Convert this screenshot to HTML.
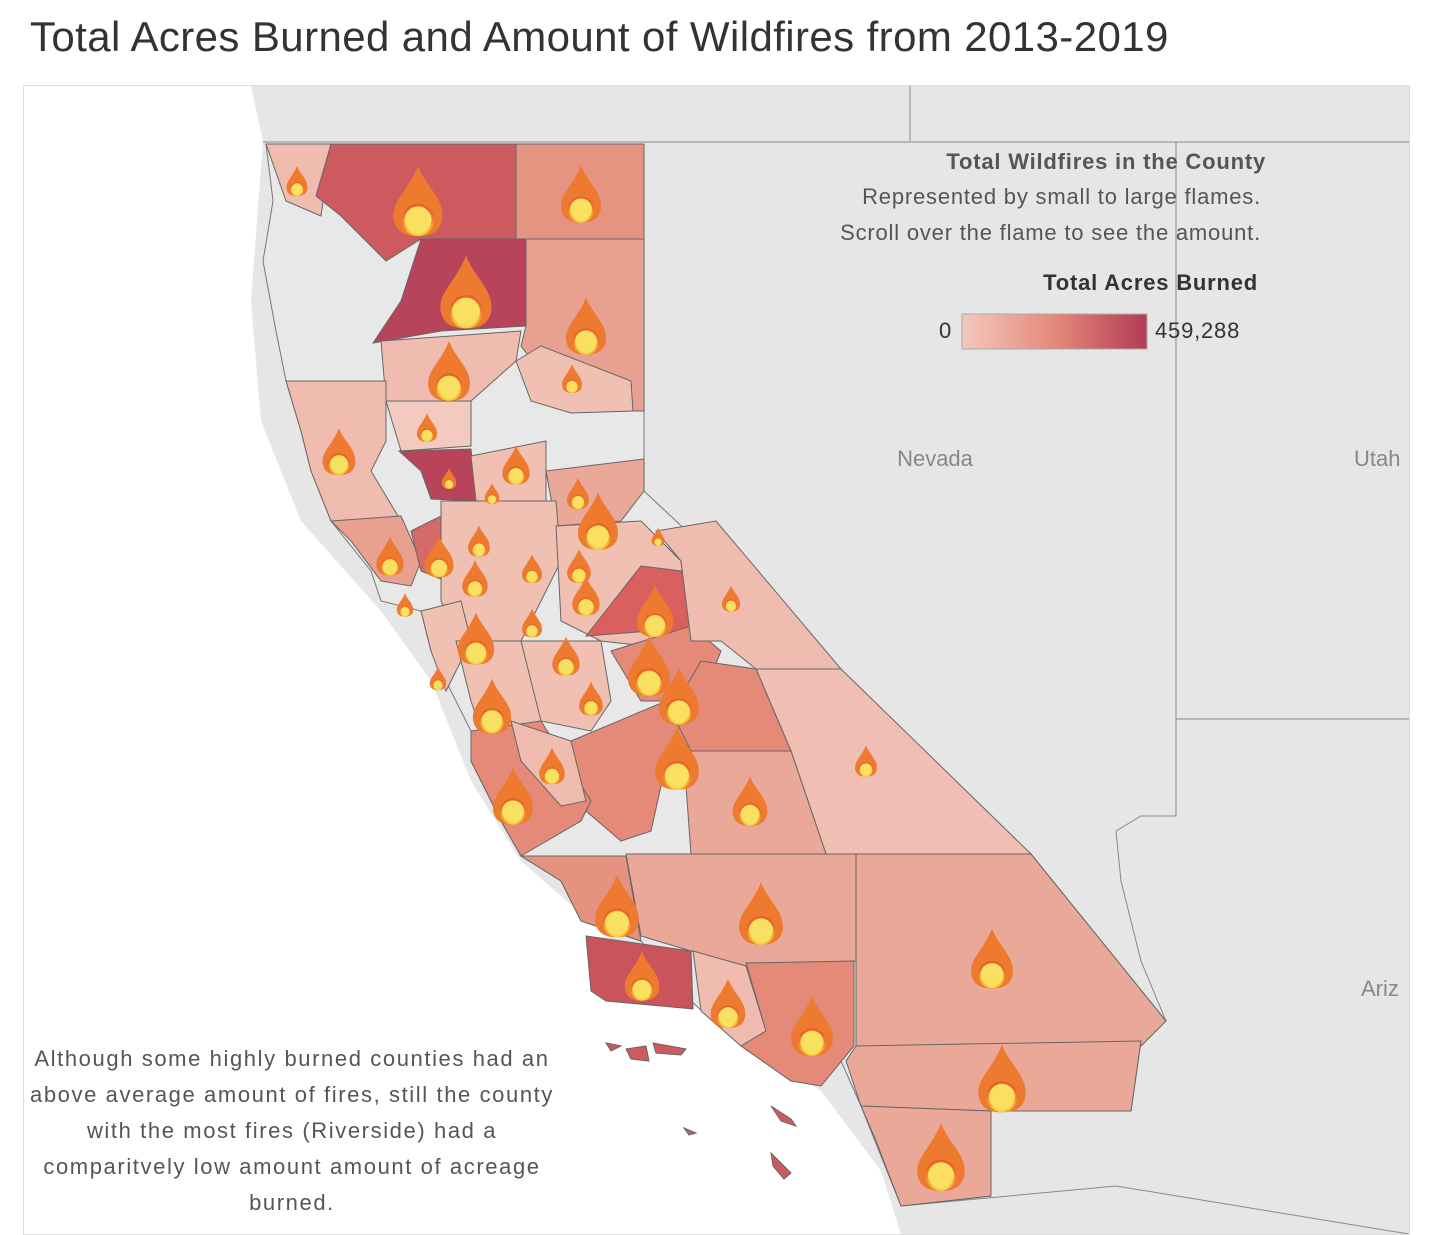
<!DOCTYPE html>
<html><head><meta charset="utf-8"><style>
body{margin:0;width:1429px;height:1233px;background:#fff;font-family:"Liberation Sans",sans-serif;overflow:hidden;position:relative}
.t{position:absolute;left:30px;top:13px;font-size:42px;letter-spacing:0.4px;color:#333}
.frame{position:absolute;left:23px;top:85px;width:1385px;height:1148px;border:1px solid #ddd;overflow:hidden}
</style></head><body>
<div class="t">Total Acres Burned and Amount of Wildfires from 2013-2019</div>
<div class="frame">
<svg width="1385" height="1148" viewBox="23 85 1385 1148" xmlns="http://www.w3.org/2000/svg">
<defs>
<radialGradient id="fl" cx="0.5" cy="0.7" r="0.6"><stop offset="0" stop-color="#fff6a0"/><stop offset="0.45" stop-color="#f7d23a"/><stop offset="1" stop-color="#e8632a"/></radialGradient>
<linearGradient id="lg"><stop offset="0" stop-color="#f3c9bd"/><stop offset="0.5" stop-color="#e5887a"/><stop offset="1" stop-color="#b23c57"/></linearGradient>
<symbol id="f" viewBox="-10 -20 20 26"><path d="M0,-20 C3,-12 10,-8 9,0 C8,5 4,6 0,6 C-4,6 -8,5 -9,0 C-10,-7 -4,-10 0,-20Z" fill="#ee7a30"/><circle cx="0" cy="0" r="6" fill="url(#fl)"/><circle cx="0" cy="0" r="5" fill="#f9e060"/></symbol>
</defs>
<rect x="23" y="85" width="1385" height="1148" fill="#e6e6e6"/>
<path d="M23,85 L250,85 L262,140 L250,300 L260,420 L300,520 L380,610 L430,680 L470,780 L520,860 L600,930 L700,1010 L820,1090 L880,1170 L900,1233 L23,1233Z" fill="#fff"/>
<line x1="909" y1="85" x2="909" y2="140" stroke="#888"/>
<line x1="643" y1="141" x2="1408" y2="141" stroke="#888"/>
<line x1="262" y1="141" x2="643" y2="141" stroke="#888"/>
<polyline points="1175,141 1175,718 1408,718" fill="none" stroke="#888"/>
<polyline points="1175,718 1175,815 1140,815 1115,830 1120,880 1140,960 1165,1020" fill="none" stroke="#888"/>
<polyline points="900,1205 1115,1185 1408,1233" fill="none" stroke="#888"/>
<path d="M265,143 L643,143 L643,490 L1030,853 L1165,1020 L1140,1040 L1130,1110 L990,1110 L990,1195 L900,1205 L860,1105 L840,1060 L790,1080 L740,1045 L690,1000 L640,940 L580,920 L560,880 L520,855 L500,820 L470,760 L470,730 L455,700 L430,650 L420,610 L380,600 L370,570 L330,520 L310,470 L300,430 L285,380 L275,330 L262,260 L272,200 Z" fill="#e8e8e8" stroke="#777"/>
<g stroke="#666" stroke-width="1">
<path d="M265,143 L330,143 L320,215 L285,200 Z" fill="#f0bcb0"/>
<path d="M330,143 L515,143 L515,238 L420,238 L385,260 L340,215 L315,195 Z" fill="#cc5a5e"/>
<path d="M515,143 L643,143 L643,238 L515,238Z" fill="#e59482"/>
<path d="M420,238 L525,238 L525,325 L440,330 L372,342 L400,300 Z" fill="#b7445a"/>
<path d="M525,238 L643,238 L643,410 L570,410 L520,345 L525,325Z" fill="#e8a090"/>
<path d="M380,340 L520,330 L515,360 L470,400 L385,400Z" fill="#f0bcb0"/>
<path d="M515,360 L540,345 L630,380 L632,410 L570,412 L530,400Z" fill="#f0c0b3"/>
<path d="M285,380 L385,380 L385,440 L370,470 L400,520 L330,520 L310,470 L300,430Z" fill="#f0bcb0"/>
<path d="M385,400 L470,400 L470,445 L400,450Z" fill="#f3cac0"/>
<path d="M398,450 L470,448 L475,500 L430,498 L420,470Z" fill="#b7445a"/>
<path d="M330,520 L400,515 L420,560 L410,585 L380,580 L350,540Z" fill="#e8a090"/>
<path d="M410,530 L440,515 L460,550 L445,580 L420,570Z" fill="#d36a68"/>
<path d="M470,455 L545,440 L545,500 L500,500 L475,500Z" fill="#f0c0b3"/>
<path d="M545,470 L643,458 L643,490 L620,520 L555,525Z" fill="#eaa898"/>
<path d="M440,500 L555,500 L560,560 L520,640 L460,640 L440,600Z" fill="#f0c0b3"/>
<path d="M555,525 L640,520 L680,560 L690,650 L600,640 L560,620Z" fill="#f0c0b3"/>
<path d="M585,635 L640,565 L680,570 L715,630 L695,645 L650,630Z" fill="#d9605f"/>
<path d="M610,650 L690,625 L720,650 L700,700 L640,700Z" fill="#e58a78"/>
<path d="M420,610 L460,600 L470,640 L445,690 L430,650Z" fill="#f0c0b3"/>
<path d="M455,640 L520,640 L560,660 L540,720 L480,730 L470,700Z" fill="#f0c0b3"/>
<path d="M520,640 L600,640 L610,700 L590,730 L540,720Z" fill="#f0c0b3"/>
<path d="M655,530 L715,520 L840,668 L755,668 L720,640 L690,640 L680,560Z" fill="#f0bcb0"/>
<path d="M755,668 L840,668 L1030,853 L825,853 L790,750 Z" fill="#f0beb3"/>
<path d="M700,660 L755,668 L790,750 L690,750 L665,720Z" fill="#e58a78"/>
<path d="M570,740 L665,700 L690,750 L660,785 L650,830 L620,840 L585,810Z" fill="#e58a78"/>
<path d="M470,730 L540,720 L590,800 L580,820 L520,855 L500,820 L470,760Z" fill="#e58a78"/>
<path d="M510,720 L570,740 L585,800 L560,805 L520,760Z" fill="#f0bcb0"/>
<path d="M690,750 L790,750 L825,853 L690,853 L685,785Z" fill="#eaa898"/>
<path d="M520,855 L625,855 L640,940 L580,920 L560,880Z" fill="#e59280"/>
<path d="M625,853 L855,853 L855,960 L745,965 L690,950 L640,935Z" fill="#eaa898"/>
<path d="M855,853 L1030,853 L1165,1020 L1140,1045 L855,1045Z" fill="#eaa898"/>
<path d="M585,935 L690,950 L692,1008 L605,1000 L590,990Z" fill="#c9545c"/>
<path d="M692,950 L745,965 L765,1030 L740,1045 L700,1010Z" fill="#f0bcb0"/>
<path d="M745,962 L853,960 L853,1045 L820,1085 L790,1080 L740,1045 L765,1030Z" fill="#e58a78"/>
<path d="M855,1045 L1140,1040 L1130,1110 L990,1110 L860,1105 L845,1060Z" fill="#eaa898"/>
<path d="M860,1105 L990,1110 L990,1195 L900,1205 L875,1140Z" fill="#eaa898"/>
<path d="M605,1042 L620,1045 L610,1050Z M625,1048 L645,1045 L648,1060 L630,1058Z M652,1042 L685,1048 L680,1054 L655,1052Z M770,1105 L790,1118 L795,1125 L780,1120Z M770,1152 L790,1172 L783,1178 L772,1165Z M683,1127 L695,1132 L688,1134Z" fill="#cc5a5e"/>
</g>
<text x="934" y="465" font-size="22" fill="#888" text-anchor="middle">Nevada</text>
<text x="1353" y="465" font-size="22" fill="#888">Utah</text>
<text x="1360" y="995" font-size="22" fill="#888">Ariz</text>
<g>
<use href="#f" x="284" y="165" width="24" height="30"/>
<use href="#f" x="390" y="160" width="54" height="80"/>
<use href="#f" x="558" y="160" width="44" height="66"/>
<use href="#f" x="437" y="245" width="56" height="92"/>
<use href="#f" x="563" y="290" width="44" height="70"/>
<use href="#f" x="425" y="330" width="46" height="80"/>
<use href="#f" x="560" y="360" width="22" height="35"/>
<use href="#f" x="320" y="418" width="36" height="65"/>
<use href="#f" x="415" y="410" width="22" height="33"/>
<use href="#f" x="500" y="440" width="30" height="48"/>
<use href="#f" x="440" y="465" width="16" height="25"/>
<use href="#f" x="483" y="480" width="16" height="25"/>
<use href="#f" x="565" y="470" width="24" height="45"/>
<use href="#f" x="575" y="480" width="44" height="80"/>
<use href="#f" x="650" y="525" width="14" height="22"/>
<use href="#f" x="374" y="530" width="30" height="50"/>
<use href="#f" x="422" y="528" width="32" height="55"/>
<use href="#f" x="466" y="520" width="24" height="40"/>
<use href="#f" x="460" y="555" width="28" height="45"/>
<use href="#f" x="520" y="550" width="22" height="35"/>
<use href="#f" x="565" y="545" width="26" height="40"/>
<use href="#f" x="570" y="570" width="30" height="50"/>
<use href="#f" x="395" y="590" width="18" height="28"/>
<use href="#f" x="720" y="580" width="20" height="35"/>
<use href="#f" x="634" y="580" width="40" height="60"/>
<use href="#f" x="520" y="605" width="22" height="34"/>
<use href="#f" x="455" y="595" width="40" height="85"/>
<use href="#f" x="550" y="630" width="30" height="50"/>
<use href="#f" x="625" y="630" width="46" height="70"/>
<use href="#f" x="428" y="665" width="18" height="25"/>
<use href="#f" x="656" y="660" width="44" height="70"/>
<use href="#f" x="577" y="675" width="26" height="45"/>
<use href="#f" x="470" y="670" width="42" height="70"/>
<use href="#f" x="652" y="720" width="48" height="75"/>
<use href="#f" x="537" y="740" width="28" height="50"/>
<use href="#f" x="853" y="740" width="24" height="40"/>
<use href="#f" x="730" y="765" width="38" height="70"/>
<use href="#f" x="490" y="760" width="44" height="70"/>
<use href="#f" x="592" y="860" width="48" height="90"/>
<use href="#f" x="736" y="870" width="48" height="85"/>
<use href="#f" x="968" y="915" width="46" height="85"/>
<use href="#f" x="622" y="945" width="38" height="60"/>
<use href="#f" x="708" y="970" width="38" height="65"/>
<use href="#f" x="788" y="985" width="46" height="80"/>
<use href="#f" x="975" y="1030" width="52" height="95"/>
<use href="#f" x="914" y="1110" width="52" height="92"/>
</g>
<g font-size="22" fill="#555" text-anchor="end" letter-spacing="0.8">
<text x="1265" y="168" font-weight="bold">Total Wildfires in the County</text>
<text x="1260" y="203">Represented by small to large flames.</text>
<text x="1260" y="239">Scroll over the flame to see the amount.</text>
<text x="1257" y="289" font-weight="bold" fill="#333">Total Acres Burned</text>
<text x="951" y="337" fill="#333">0</text>
</g>
<rect x="961" y="313" width="185" height="35" fill="url(#lg)" stroke="#aaa"/>
<text x="1154" y="337" font-size="22" fill="#333" letter-spacing="0.8">459,288</text>
<g font-size="22" fill="#555" text-anchor="middle" letter-spacing="1.6">
<text x="291" y="1065">Although some highly burned counties had an</text>
<text x="291" y="1101">above average amount of fires, still the county</text>
<text x="291" y="1137">with the most fires (Riverside) had a</text>
<text x="291" y="1173">comparitvely low amount amount of acreage</text>
<text x="291" y="1209">burned.</text>
</g>
</svg>
</div>
</body></html>
